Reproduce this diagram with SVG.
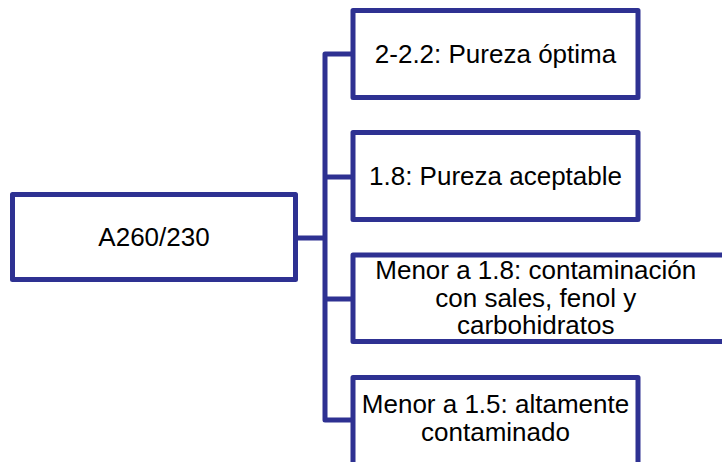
<svg xmlns="http://www.w3.org/2000/svg" width="722" height="462" viewBox="0 0 722 462">
<style>
.box{fill:#fff;stroke:#2e3192;stroke-width:5;stroke-linejoin:round}
.conn{fill:none;stroke:#2e3192;stroke-width:5;stroke-linejoin:round}
.t{font-family:"Liberation Sans",Arial,sans-serif;font-size:26px;fill:#000;text-anchor:middle}
</style>
<rect width="722" height="462" fill="#fff"/>
<g id="connectors">
<path class="conn" d="M298 238H325M353 54H325V420H353M325 177H353M325 299H353"/>
</g>
<g id="root">
<rect class="box" x="12.5" y="194.5" width="283" height="85"/>
<text class="t" x="154" y="246">A260/230</text>
</g>
<g id="n1">
<rect class="box" x="353" y="10.5" width="285" height="87"/>
<text class="t" x="495.5" y="63.3">2-2.2: Pureza óptima</text>
</g>
<g id="n2">
<rect class="box" x="353" y="132.5" width="285" height="87"/>
<text class="t" x="495.5" y="185">1.8: Pureza aceptable</text>
</g>
<g id="n3">
<rect class="box" x="353" y="255" width="400" height="86.5"/>
<text class="t" x="535.7" y="279.3">Menor a 1.8: contaminación</text>
<text class="t" x="535.7" y="306.7">con sales, fenol y</text>
<text class="t" x="535.7" y="334">carbohidratos</text>
</g>
<g id="n4">
<rect class="box" x="353" y="377.5" width="285" height="100"/>
<text class="t" x="495.5" y="413.3">Menor a 1.5: altamente</text>
<text class="t" x="495.5" y="440.7">contaminado</text>
</g>
</svg>
